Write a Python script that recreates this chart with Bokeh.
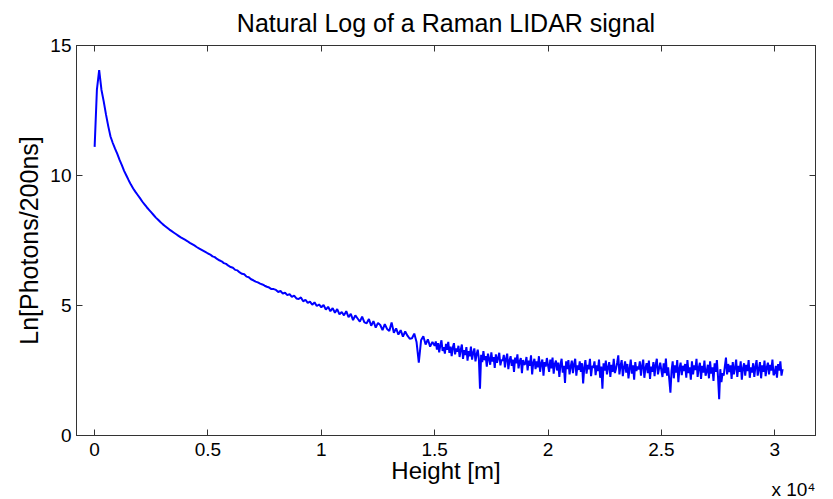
import numpy as np
from bokeh.plotting import figure
from bokeh.models import Range1d, LinearAxis, FixedTicker, Title
from bokeh.embed import file_html
from bokeh.resources import INLINE

# Near range: one value every 100 m from 0 m
near_step_m = 100
ln_signal_near = [
    11.10, 13.30, 14.05, 13.30, 12.85, 12.35, 11.90, 11.50, 11.25, 11.03,
    10.83, 10.60, 10.40, 10.18, 10.00, 9.82, 9.65, 9.50, 9.37, 9.25,
    9.13, 9.00, 8.89, 8.78, 8.68, 8.58, 8.48, 8.38, 8.30, 8.21,
    8.13, 8.06, 7.99, 7.92, 7.86, 7.80, 7.74, 7.68, 7.62, 7.57,
    7.52, 7.47, 7.41, 7.36, 7.31, 7.25, 7.20, 7.15, 7.10, 7.05,
    7.00, 6.96, 6.89, 6.86, 6.79, 6.74, 6.70, 6.63, 6.60, 6.53,
    6.48, 6.45, 6.37, 6.35, 6.27, 6.22, 6.20, 6.11, 6.09, 6.01,
    5.97, 5.92, 5.89, 5.84, 5.81, 5.76, 5.72, 5.69, 5.63, 5.63,
    5.60, 5.52, 5.56, 5.46, 5.49, 5.40, 5.44, 5.33, 5.38, 5.27,
    5.25, 5.31, 5.16, 5.22, 5.10, 5.15, 5.03, 5.12, 4.98, 5.04,
    4.93, 5.02, 4.84, 4.95, 4.78, 4.90, 4.72, 4.86, 4.66, 4.75,
    4.62, 4.78, 4.55, 4.68, 4.44, 4.62, 4.50, 4.38, 4.57, 4.35,
    4.32, 4.48, 4.22, 4.40, 4.15, 4.33, 4.25, 4.05, 4.28, 4.10,
    4.02, 4.35, 3.95, 4.12, 3.88, 4.05, 3.80, 4.00, 3.84, 3.72,
    3.74, 3.92, 3.60, 2.80, 3.66, 3.82, 3.50, 3.70, 3.42, 3.60,
]

# Far range: one value every 50 m from 15 000 m
far_start_m = 15000
far_step_m = 50
ln_signal_far = [
    3.45, 3.62, 3.30, 3.55, 3.20, 3.48, 3.66, 3.25, 3.40, 3.15, 3.52, 3.30, 3.60, 3.18, 3.42, 3.05, 3.38, 3.55, 3.12, 3.35,
    3.22, 3.45, 3.02, 3.30, 3.50, 2.95, 3.28, 3.10, 3.40, 2.88, 3.25, 3.05, 3.42, 2.92, 3.18, 3.35, 2.85, 3.12, 3.30, 2.95,
    1.80, 3.10, 2.82, 3.25, 2.90, 3.05, 2.65, 3.15, 2.95, 2.72, 3.20, 2.85, 3.02, 2.60, 3.12, 2.80, 2.98, 3.18, 2.70, 2.92,
    2.87, 3.10, 2.62, 2.95, 3.15, 2.55, 2.88, 3.05, 2.68, 2.92, 2.45, 3.00, 2.78, 3.12, 2.58, 2.85, 2.98, 2.40, 2.90, 2.72,
    2.77, 3.02, 2.50, 2.88, 2.68, 3.08, 2.35, 2.80, 2.95, 2.55, 2.85, 2.62, 3.05, 2.45, 2.78, 2.92, 2.30, 2.82, 2.65, 2.98,
    2.70, 2.45, 2.92, 2.58, 3.00, 2.38, 2.75, 2.88, 2.50, 2.80, 2.25, 2.72, 2.95, 2.42, 2.68, 2.02, 2.85, 2.55, 2.90, 2.35,
    2.65, 2.88, 2.40, 2.75, 2.95, 2.30, 2.70, 2.52, 2.85, 2.45, 2.78, 2.00, 2.62, 2.90, 2.38, 2.72, 2.55, 2.95, 2.28, 2.68,
    2.60, 2.85, 2.32, 2.70, 2.48, 2.92, 2.22, 2.65, 1.80, 2.78, 2.50, 2.88, 2.35, 2.62, 2.82, 2.25, 2.72, 2.45, 2.95, 2.40,
    2.57, 2.80, 3.08, 2.35, 2.68, 2.90, 2.28, 2.62, 2.85, 2.42, 2.75, 2.20, 2.58, 2.92, 2.38, 2.70, 2.15, 2.82, 2.48, 2.65,
    2.54, 2.85, 2.30, 2.68, 2.92, 2.22, 2.60, 2.78, 2.40, 2.88, 2.18, 2.65, 2.45, 2.82, 2.28, 2.72, 2.95, 2.35, 2.58, 2.80,
    2.51, 2.25, 2.78, 2.40, 2.96, 2.30, 2.62, 2.15, 1.65, 2.50, 2.85, 2.20, 2.70, 2.42, 2.90, 2.05, 2.58, 2.80, 2.32, 2.68,
    2.48, 2.75, 2.22, 2.90, 2.40, 2.62, 2.15, 2.85, 2.35, 2.70, 2.52, 2.95, 2.25, 2.60, 2.80, 2.18, 2.68, 2.42, 2.88, 2.30,
    2.46, 2.72, 2.20, 2.85, 2.38, 2.62, 2.10, 2.78, 2.45, 2.90, 2.25, 1.40, 2.55, 2.05, 2.40, 2.30, 2.65, 3.00, 2.35, 2.75,
    2.44, 2.70, 2.18, 2.82, 2.35, 2.60, 2.92, 2.25, 2.68, 2.45, 2.85, 2.15, 2.58, 2.78, 2.30, 2.72, 2.48, 2.90, 2.22, 2.62,
    2.42, 2.78, 2.25, 2.65, 2.90, 2.30, 2.55, 2.82, 2.20, 2.70, 2.45, 2.88, 2.28, 2.62, 2.80, 2.35, 2.72, 2.50, 2.92, 2.32,
    2.40, 2.68, 2.22, 2.75, 2.50, 2.85, 2.30, 2.55,
]

height_m = np.concatenate([
    np.arange(len(ln_signal_near)) * near_step_m,
    far_start_m + np.arange(len(ln_signal_far)) * far_step_m,
])
ln_signal = ln_signal_near + ln_signal_far

x_ticks = [0, 5000, 10000, 15000, 20000, 25000, 30000]
x_tick_labels = ["0", "0.5", "1", "1.5", "2", "2.5", "3"]
y_ticks = [0, 5, 10, 15]

FONT = "Liberation Sans"

p = figure(width=833, height=499, output_backend="svg", toolbar_location=None,
           x_range=Range1d(-800, 31800), y_range=Range1d(0, 15),
           min_border_left=76, min_border_right=18, min_border_top=45,
           min_border_bottom=64, title="Natural Log of a Raman LIDAR signal")
p.background_fill_color = "white"
p.border_fill_color = "white"
p.grid.visible = False
p.outline_line_color = "#333333"

p.title.align = "center"
p.title.vertical_align = "top"
p.title.text_font = FONT
p.title.text_font_style = "normal"
p.title.text_font_size = "25px"
p.title.text_color = "black"
p.title.standoff = 13

p.line(height_m, ln_signal, line_color="#0000ff", line_width=2)

bottom_ax = p.below[0]
left_ax = p.left[0]
# extra axes for the mirrored inward ticks
top_ax = LinearAxis()
right_ax = LinearAxis()
p.add_layout(top_ax, "above")
p.add_layout(right_ax, "right")

for ax in (bottom_ax, top_ax):
    ax.ticker = FixedTicker(ticks=x_ticks)
for ax in (left_ax, right_ax):
    ax.ticker = FixedTicker(ticks=y_ticks)

for ax in (bottom_ax, top_ax, left_ax, right_ax):
    ax.major_tick_in = 6
    ax.major_tick_out = 0
    ax.minor_tick_line_color = None
    ax.axis_line_color = "#333333"
    ax.major_tick_line_color = "#333333"
    ax.major_label_text_font = FONT
    ax.major_label_text_font_size = "19px"
    ax.major_label_text_color = "black"
    ax.axis_label_text_font = FONT
    ax.axis_label_text_font_style = "normal"
    ax.axis_label_text_font_size = "24px"
    ax.axis_label_text_color = "black"

for ax in (top_ax, right_ax):
    ax.major_label_text_font_size = "0px"
    ax.major_label_standoff = 0

bottom_ax.major_label_overrides = dict(zip(x_ticks, x_tick_labels))
bottom_ax.axis_label = "Height [m]"
bottom_ax.major_label_standoff = 7
bottom_ax.axis_label_standoff = -2
left_ax.axis_label = "Ln[Photons/200ns]"
left_ax.axis_label_text_font_size = "25px"
left_ax.major_label_standoff = 5
left_ax.axis_label_standoff = 4

# axis multiplier below the x axis, right aligned
mult = Title(text="x 10\u2074", align="right", vertical_align="middle",
             standoff=-17, text_font=FONT, text_font_size="19px",
             text_font_style="normal", text_color="black")
p.add_layout(mult, "below")

open("out.html", "w").write(file_html(p, INLINE))
